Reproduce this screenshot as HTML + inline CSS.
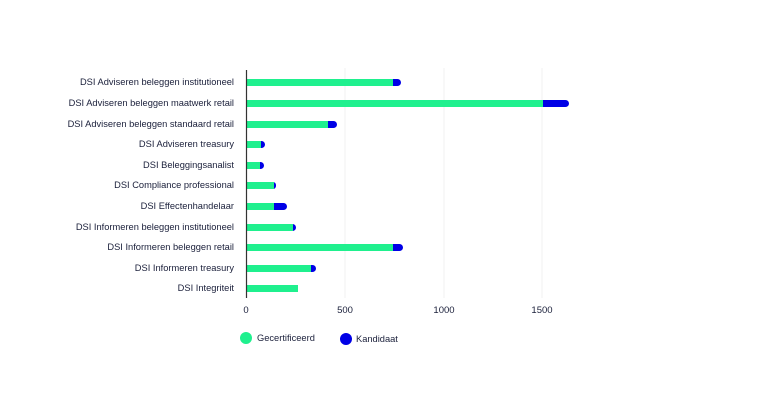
<!DOCTYPE html>
<html><head><style>
html,body{margin:0;padding:0;background:#fff;}
svg{display:block;font-family:"Liberation Sans",sans-serif;}
</style></head><body>
<svg width="761" height="407" viewBox="0 0 761 407" xmlns="http://www.w3.org/2000/svg">
<g stroke="#f2f2f2" stroke-width="1">
<line x1="345" y1="68" x2="345" y2="298"/>
<line x1="444" y1="68" x2="444" y2="298"/>
<line x1="542" y1="68" x2="542" y2="298"/>
</g>
<g font-size="9.3" fill="#1a1f3a" text-anchor="end">
<text x="234" y="85">DSI Adviseren beleggen institutioneel</text>
<text x="234" y="106">DSI Adviseren beleggen maatwerk retail</text>
<text x="234" y="127">DSI Adviseren beleggen standaard retail</text>
<text x="234" y="147">DSI Adviseren treasury</text>
<text x="234" y="168">DSI Beleggingsanalist</text>
<text x="234" y="188">DSI Compliance professional</text>
<text x="234" y="209">DSI Effectenhandelaar</text>
<text x="234" y="230">DSI Informeren beleggen institutioneel</text>
<text x="234" y="250">DSI Informeren beleggen retail</text>
<text x="234" y="271">DSI Informeren treasury</text>
<text x="234" y="291">DSI Integriteit</text>
</g>
<g fill="#0000e6">
<rect x="380" y="79" width="21" height="7" rx="3.5"/>
<rect x="530" y="100" width="39" height="7" rx="3.5"/>
<rect x="320" y="121" width="17" height="7" rx="3.5"/>
<rect x="255" y="141" width="10" height="7" rx="3.5"/>
<rect x="254" y="162" width="10" height="7" rx="3.5"/>
<rect x="270" y="182" width="6" height="7" rx="3"/>
<rect x="270" y="203" width="17" height="7" rx="3.5"/>
<rect x="289" y="224" width="7" height="7" rx="3.5"/>
<rect x="385" y="244" width="18" height="7" rx="3.5"/>
<rect x="305" y="265" width="11" height="7" rx="3.5"/>
</g>
<g fill="#1ff08e">
<rect x="246" y="79" width="147" height="7"/>
<rect x="246" y="100" width="297" height="7"/>
<rect x="246" y="121" width="82" height="7"/>
<rect x="246" y="141" width="15" height="7"/>
<rect x="246" y="162" width="14" height="7"/>
<rect x="246" y="182" width="28" height="7"/>
<rect x="246" y="203" width="28" height="7"/>
<rect x="246" y="224" width="47" height="7"/>
<rect x="246" y="244" width="147" height="7"/>
<rect x="246" y="265" width="65" height="7"/>
<rect x="246" y="285" width="52" height="7"/>
</g>
<line x1="246.5" y1="70" x2="246.5" y2="298" stroke="#333" stroke-width="1.2"/>
<g font-size="9.5" fill="#1a1f3a" text-anchor="middle">
<text x="246" y="313">0</text>
<text x="345" y="313">500</text>
<text x="444" y="313">1000</text>
<text x="542" y="313">1500</text>
</g>
<circle cx="246" cy="338" r="6" fill="#1ff08e"/>
<text x="257" y="341" font-size="9.3" fill="#1a1f3a">Gecertificeerd</text>
<circle cx="346" cy="339" r="6" fill="#0000e6"/>
<text x="356" y="342" font-size="9.3" fill="#1a1f3a">Kandidaat</text>
</svg>
</body></html>
